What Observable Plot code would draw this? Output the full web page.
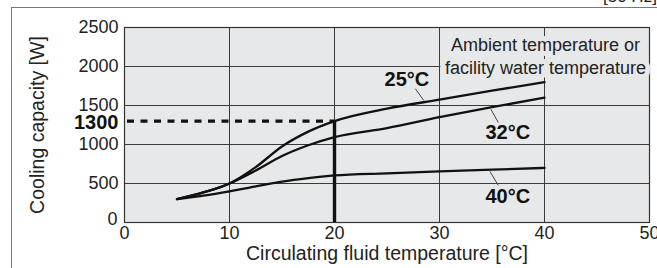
<!DOCTYPE html>
<html>
<head>
<meta charset="utf-8">
<script src="https://cdn.jsdelivr.net/npm/d3@7"></script>
<script src="https://cdn.jsdelivr.net/npm/@observablehq/plot@0.6"></script>
<style>
  html, body { margin: 0; padding: 0; background: #fff; overflow: hidden; }
  #wrap { position: relative; width: 657px; height: 268px; overflow: hidden; font-family: "Liberation Sans", Arial, sans-serif; }
  #wrap svg { position: absolute; left: 0; top: 0; }
  #border { position: absolute; left: 11px; top: 7px; width: 700px; height: 300px; border-left: 1.5px solid #777; border-top: 1.5px solid #777; pointer-events: none; }
  #hz { position: absolute; left: 603px; top: -13px; font-size: 17px; color: #222; white-space: nowrap; }
</style>
</head>
<body>
<div id="wrap"><div id="hz">[50 Hz]</div><div id="border"></div></div>
<script>
// Circulating fluid temperature [°C]
const temps = [5, 7.5, 10, 12.5, 15, 17.5, 20, 25, 30, 35, 40];
// Cooling capacity [W] by ambient / facility water temperature
const cap25 = [300, 385, 500, 710, 975, 1165, 1300, 1460, 1575, 1690, 1800];
const cap32 = [300, 385, 500, 667, 852, 990, 1095, 1210, 1350, 1480, 1600];
const cap40 = [300, 345, 400, 462, 525, 570, 603, 630, 655, 678, 700];
const series = ["25°C", "32°C", "40°C"];
const seriesValues = [cap25, cap32, cap40];

const xTicks = [0, 10, 20, 30, 40, 50];
const yTicks = [0, 500, 1000, 1500, 2000, 2500];
const xGrid = [10, 20, 30, 40];
const yGrid = [500, 1000, 1500, 2000];
const readTemp = 20;
const readCap = 1300;

const xTitle = "Circulating fluid temperature [°C]";
const yTitle = "Cooling capacity [W]";
const noteText = "Ambient temperature or\nfacility water temperature";

// label anchors (data units) and leader lines
const labels = [
  {text: "25°C", x: 26.9, y: 1830, lx1: 27.7, ly1: 1715, lx2: 28.5, ly2: 1565},
  {text: "32°C", x: 36.5, y: 1150, lx1: 34.9, ly1: 1450, lx2: 35.6, ly2: 1282},
  {text: "40°C", x: 36.5, y: 335,  lx1: 34.8, ly1: 655,  lx2: 35.6, ly2: 475}
];

const rows = [];
series.forEach((s, i) => temps.forEach((t, j) => rows.push({series: s, t, c: seriesValues[i][j]})));

const bg = "#e7e8e9";
const ink = "#111";
const fmt = d => String(d);

const chart = Plot.plot({
  width: 657,
  height: 268,
  marginLeft: 124,
  marginRight: 8,
  marginTop: 27,
  marginBottom: 46,
  style: {fontFamily: "'Liberation Sans', Arial, sans-serif", background: "transparent", color: ink, overflow: "visible"},
  x: {domain: [0, 50]},
  y: {domain: [0, 2500]},
  marks: [
    Plot.frame({fill: bg, stroke: null}),
    Plot.gridX(xGrid, {stroke: "#3a3a3a", strokeOpacity: 1, strokeWidth: 1}),
    Plot.gridY(yGrid, {stroke: "#3a3a3a", strokeOpacity: 1, strokeWidth: 1}),
    Plot.frame({stroke: "#333", strokeWidth: 1.2}),
    Plot.text([noteText], {x: 40.1, y: 2150, fontSize: 18, lineHeight: 1.33, fill: "#222", stroke: bg, strokeWidth: 10, textAnchor: "middle"}),
    Plot.link(labels, {x1: "lx1", y1: "ly1", x2: "lx2", y2: "ly2", stroke: "#444", strokeWidth: 1}),
    Plot.line(rows, {x: "t", y: "c", z: "series", curve: "monotone-x", stroke: ink, strokeWidth: 2.3}),
    Plot.ruleY([readCap], {x1: 0, x2: readTemp, stroke: ink, strokeWidth: 3.4, strokeDasharray: "7,6.5", strokeDashoffset: -3}),
    Plot.ruleX([readTemp], {y1: 0, y2: readCap, stroke: ink, strokeWidth: 3.4}),
    Plot.text(labels, {x: "x", y: "y", text: "text", fontSize: 20, fontWeight: "bold", fill: ink}),
    Plot.axisX(xTicks, {tickSize: 0, tickPadding: 4, fontSize: 18, fill: "#222", label: null, tickFormat: fmt}),
    Plot.axisY(yTicks.filter(d => d !== 0), {tickSize: 0, tickPadding: 6, fontSize: 18, fill: "#222", label: null, tickFormat: fmt}),
    Plot.axisY([0], {tickSize: 0, tickPadding: 6, dx: -1, dy: -3, fontSize: 18, fill: "#222", label: null, tickFormat: fmt}),
    Plot.text([String(readCap)], {x: 0, y: readCap, dx: -6, dy: 1, textAnchor: "end", fontSize: 20, fontWeight: "bold", fill: ink}),
    Plot.text([xTitle], {frameAnchor: "bottom", dy: 37, fontSize: 19.5, fill: "#222"}),
    Plot.text([yTitle], {frameAnchor: "left", textAnchor: "middle", rotate: -90, dx: -87, fontSize: 19.5, fill: "#222"})
  ]
});
document.getElementById("wrap").prepend(chart);
</script>
</body>
</html>
